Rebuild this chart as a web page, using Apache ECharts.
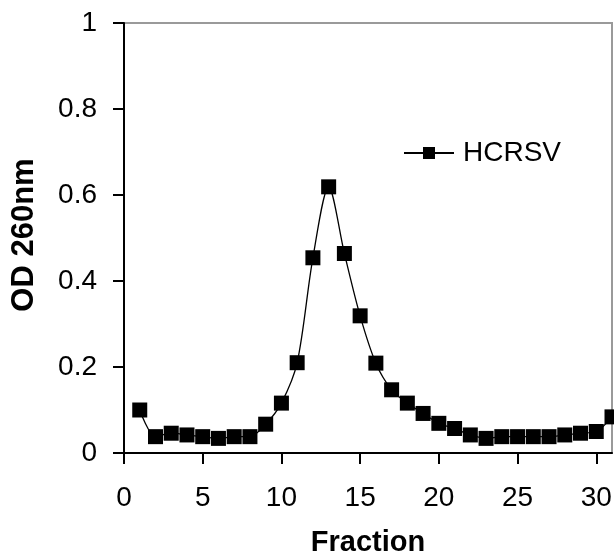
<!DOCTYPE html>
<html>
<head>
<meta charset="utf-8">
<script src="https://cdn.jsdelivr.net/npm/echarts@6/dist/echarts.min.js"></script>
<style>
html,body{margin:0;padding:0;background:#fff;}
#chart{width:614px;height:556px;}
</style>
</head>
<body>
<div id="chart"></div>
<script>
const fractions = [1,2,3,4,5,6,7,8,9,10,11,12,13,14,15,16,17,18,19,20,21,22,23,24,25,26,27,28,29,30,31];
const od260 = [0.100,0.038,0.046,0.042,0.038,0.034,0.038,0.038,0.067,0.116,0.210,0.454,0.619,0.464,0.319,0.209,0.147,0.116,0.092,0.069,0.057,0.042,0.034,0.038,0.038,0.038,0.038,0.042,0.046,0.050,0.084];
const seriesName = 'HCRSV';
const xTicks = [0,5,10,15,20,25,30];
const yTicks = [0,0.2,0.4,0.6,0.8,1];

const FONT = '"Liberation Sans", Arial, sans-serif';
const chart = echarts.init(document.getElementById('chart'), null, {renderer:'canvas'});
chart.setOption({
  animation:false,
  backgroundColor:'#fff',
  grid:{left:124, right:2, top:23, bottom:103, containLabel:false, outerBoundsMode:'none', show:true, borderColor:'#9a9a9a', borderWidth:2, backgroundColor:'transparent'},
  legend:{
    data:[seriesName], left:403, top:139, padding:0,
    itemWidth:50, itemHeight:15,
    textStyle:{fontFamily:FONT, fontSize:28, color:'#000', padding:[0,0,0,4]}
  },
  xAxis:{
    type:'value', min:0, max:31,
    name:'Fraction', nameLocation:'middle', nameGap:75,
    nameTextStyle:{fontFamily:FONT, fontSize:29, fontWeight:'bold', color:'#000'},
    axisLine:{show:true, onZero:false, lineStyle:{color:'#000', width:2}},
    axisTick:{show:true, inside:false, length:11, customValues:xTicks, lineStyle:{color:'#000', width:2}},
    axisLabel:{customValues:xTicks, margin:31, fontFamily:FONT, fontSize:28, color:'#000'},
    splitLine:{show:false}
  },
  yAxis:{
    type:'value', min:0, max:1, interval:0.2,
    name:'OD 260nm', nameLocation:'middle', nameGap:84, nameRotate:90,
    nameTextStyle:{fontFamily:FONT, fontSize:31, fontWeight:'bold', color:'#000', padding:[0,0,0,6]},
    axisLine:{show:true, onZero:false, lineStyle:{color:'#000', width:2}},
    axisTick:{show:true, inside:false, length:11, lineStyle:{color:'#000', width:2}},
    axisLabel:{margin:27, fontFamily:FONT, fontSize:28, color:'#000', formatter:(v)=>String(+v.toFixed(1))},
    splitLine:{show:false}
  },
  series:[{
    name:seriesName, type:'line',
    data:fractions.map((f,i)=>[f, od260[i]]),
    smooth:0.3,
    symbol:'rect', symbolSize:15,
    lineStyle:{color:'#000', width:1.3},
    itemStyle:{color:'#000'},
    clip:false
  }]
});
</script>
</body>
</html>
